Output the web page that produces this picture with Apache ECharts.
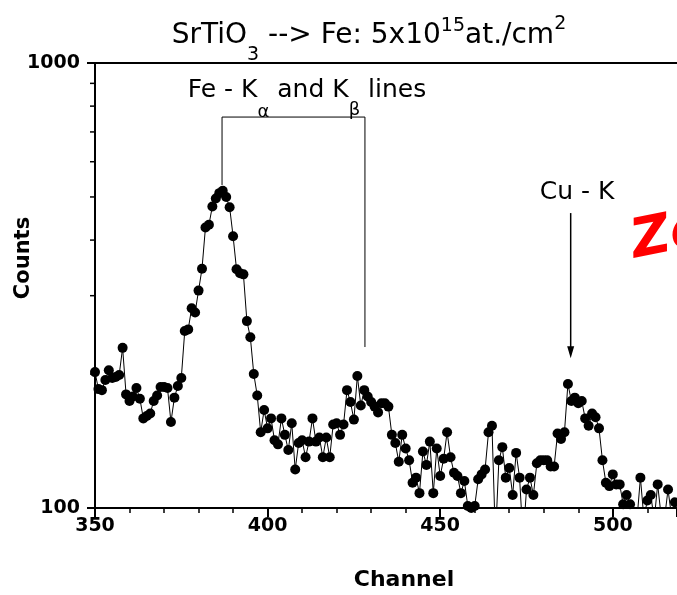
<!DOCTYPE html>
<html><head><meta charset="utf-8">
<script src="https://cdn.jsdelivr.net/npm/echarts@6/dist/echarts.min.js"></script>
<style>html,body{margin:0;padding:0;background:#fff;overflow:hidden}#c{width:677px;height:595px}</style>
</head><body><div id="c"></div>
<script>
// ---------- data ----------
const channels = [
350,351,352,353,354,355,356,357,358,359,
360,361,362,363,364,365,366,367,368,369,
370,371,372,373,374,375,376,377,378,379,
380,381,382,383,384,385,386,387,388,389,
390,391,392,393,394,395,396,397,398,399,
400,401,402,403,404,405,406,407,408,409,
410,411,412,413,414,415,416,417,418,419,
420,421,422,423,424,425,426,427,428,429,
430,431,432,433,434,435,436,437,438,439,
440,441,442,443,444,445,446,447,448,449,
450,451,452,453,454,455,456,457,458,459,
460,461,462,463,464,465,466,467,468,469,
470,471,472,473,474,475,476,477,478,479,
480,481,482,483,484,485,486,487,488,489,
490,491,492,493,494,495,496,497,498,499,
500,501,502,503,504,505,506,507,508,509,
510,511,512,513,514,515,516,517,518];
const counts = [
202,185,184,194,204,196,197,199,229,180,
174,178,186,176,159,161,163,174,179,187,
187,186,156,177,188,196,250,252,281,275,
308,345,427,433,476,496,510,516,500,474,
408,344,337,335,263,242,200,179,148,166,
151,159,142,139,159,146,135,155,122,140,
142,130,141,159,141,144,130,144,130,154,
155,146,154,184,173,158,198,170,184,178,
173,169,164,172,172,169,146,140,127,146,
136,128,114,117,108,134,125,141,108,136,
118,129,148,130,120,118,108,115,101,100,
101,116,119,122,148,153,85,128,137,117,
123,107,133,117,85,110,117,107,126,128,
128,128,124,124,147,143,148,190,174,177,
172,174,159,153,163,160,151,128,114,112,
119,113,113,102,107,102,92,94,117,95,
104,107,94,113,96,95,110,96,103];
const xTickLabels = [350, 400, 450, 500];
const yTickLabels = [100, 1000];
const yMinorTicks = [200, 300, 400, 500, 600, 700, 800, 900];

// annotation anchors (channel, counts)
const kAlphaCh = 386.8, kBetaCh = 428.2, bracketTop = 756, kAlphaEnd = 532, kBetaEnd = 230;
const cuCh = 487.8, cuArrowFrom = 460, cuArrowTo = 217;

// ---------- chart ----------
const FF = '"DejaVu Sans", sans-serif';
const chart = echarts.init(document.getElementById('c'), null, {renderer: 'canvas'});
const X_MIN = 350, X_MAX = 518.6;

chart.setOption({
  animation: false,
  backgroundColor: '#fff',
  grid: {left: 95, right: 0, top: 63, bottom: 87, containLabel: false, outerBoundsMode: 'none'},
  xAxis: [{
    type: 'value', min: X_MIN, max: X_MAX, interval: 50, position: 'bottom',
    axisLine: {show: true, onZero: false, lineStyle: {color: '#000', width: 2}},
    axisTick: {show: true, length: 9, lineStyle: {color: '#000', width: 2}},
    minorTick: {show: true, splitNumber: 5, length: 5, lineStyle: {color: '#000', width: 1.5}},
    splitLine: {show: false}, minorSplitLine: {show: false},
    axisLabel: {show: true, color: '#000', fontSize: 19, fontWeight: 'bold', fontFamily: FF, margin: 9,
      showMaxLabel: false,
      formatter: v => xTickLabels.indexOf(v) >= 0 ? String(v) : ''}
  }, {
    type: 'value', min: X_MIN, max: X_MAX, position: 'top',
    axisLine: {show: true, onZero: false, lineStyle: {color: '#000', width: 2}},
    axisTick: {show: false}, axisLabel: {show: false}, splitLine: {show: false}
  }],
  yAxis: [{
    type: 'log', logBase: 10, min: 100, max: 1000,
    axisLine: {show: true, onZero: false, lineStyle: {color: '#000', width: 2}},
    axisTick: {show: true, length: 8, lineStyle: {color: '#000', width: 2}},
    splitLine: {show: false},
    axisLabel: {show: true, color: '#000', fontSize: 19, fontWeight: 'bold', fontFamily: FF, margin: 15,
      formatter: v => yTickLabels.indexOf(Math.round(v)) >= 0 ? String(Math.round(v)) : ''}
  }],
  series: [{
    type: 'line', xAxisIndex: 0, yAxisIndex: 0,
    data: channels.map((c, i) => [c, counts[i]]),
    symbol: 'circle', symbolSize: 10, showSymbol: true, clip: true,
    lineStyle: {color: '#000', width: 1},
    itemStyle: {color: '#000', borderWidth: 0},
    emphasis: {disabled: true}, z: 3
  }]
});

// ---------- text & annotations ----------
const mctx = document.createElement('canvas').getContext('2d');
function measure(t, font) { mctx.font = font; return mctx.measureText(t).width; }
function richLine(parts, cx, cy, opts) {
  opts = opts || {};
  let total = 0;
  parts.forEach(p => { p.font = (p.weight || 'normal') + ' ' + p.size + 'px ' + FF; p.w = measure(p.t, p.font); total += p.w; });
  let x = cx - total / 2;
  const els = [];
  parts.forEach(p => {
    els.push({type: 'text', x: x, y: cy + (p.dy || 0), silent: true, z: 10,
      style: {text: p.t, font: p.font, fill: opts.fill || '#000', align: 'left', verticalAlign: 'middle'}});
    x += p.w;
  });
  return els;
}

const px = (c, v) => chart.convertToPixel({xAxisIndex: 0, yAxisIndex: 0}, [c, v]);
const a1 = px(kAlphaCh, bracketTop), a2 = px(kAlphaCh, kAlphaEnd);
const b1 = px(kBetaCh, bracketTop), b2 = px(kBetaCh, kBetaEnd);
const c1 = px(cuCh, cuArrowFrom), c2 = px(cuCh, cuArrowTo);

const graphics = [];
// y minor ticks (log positions 200..900)
yMinorTicks.forEach(v => {
  const p = px(X_MIN, v);
  graphics.push({type: 'line', silent: true, z: 5,
    shape: {x1: p[0] - 5, y1: p[1], x2: p[0], y2: p[1]},
    style: {stroke: '#000', lineWidth: 1.5}});
});
// title
graphics.push(...richLine([
  {t: 'SrTiO', size: 28}, {t: '3', size: 19, dy: 19}, {t: ' --> Fe: 5x10', size: 28},
  {t: '15', size: 19, dy: -10}, {t: 'at./cm', size: 28}, {t: '2', size: 19, dy: -12}
], 369, 36));
// Fe K label
graphics.push(...richLine([
  {t: 'Fe - K', size: 25}, {t: 'α', size: 18, dy: 22}, {t: ' and K', size: 25},
  {t: 'β', size: 18, dy: 20}, {t: ' lines', size: 25}
], 307, 90));
// Cu K label
graphics.push(...richLine([{t: 'Cu - K', size: 25}], 577, 192));
// axis titles
graphics.push({type: 'text', x: 24, y: 258, rotation: Math.PI / 2, silent: true,
  style: {text: 'Counts', font: 'bold 21px ' + FF, fill: '#000', align: 'center', verticalAlign: 'middle'}});
graphics.push({type: 'text', x: 404, y: 580, silent: true,
  style: {text: 'Channel', font: 'bold 22px ' + FF, fill: '#000', align: 'center', verticalAlign: 'middle'}});
// bracket
graphics.push({type: 'polyline', silent: true, z: 5,
  shape: {points: [[a2[0], a2[1]], [a1[0], a1[1]], [b1[0], b1[1]], [b2[0], b2[1]]]},
  style: {stroke: '#000', lineWidth: 1, fill: null}});
// arrow
graphics.push({type: 'line', silent: true, z: 5,
  shape: {x1: c1[0], y1: c1[1], x2: c2[0], y2: c2[1] - 10},
  style: {stroke: '#000', lineWidth: 1.5}});
graphics.push({type: 'polygon', silent: true, z: 5,
  shape: {points: [[c2[0], c2[1]], [c2[0] - 3.5, c2[1] - 12], [c2[0] + 3.5, c2[1] - 12]]},
  style: {fill: '#000'}});
// red stamp text (cut by the frame)
graphics.push({type: 'text', x: 632, y: 244, rotation: 0.2, silent: true, z: 10,
  style: {text: 'Zoom', font: 'italic bold 54px ' + FF, fill: '#ff0000', align: 'left', verticalAlign: 'middle'}});

chart.setOption({graphic: graphics});
</script>
</body></html>
